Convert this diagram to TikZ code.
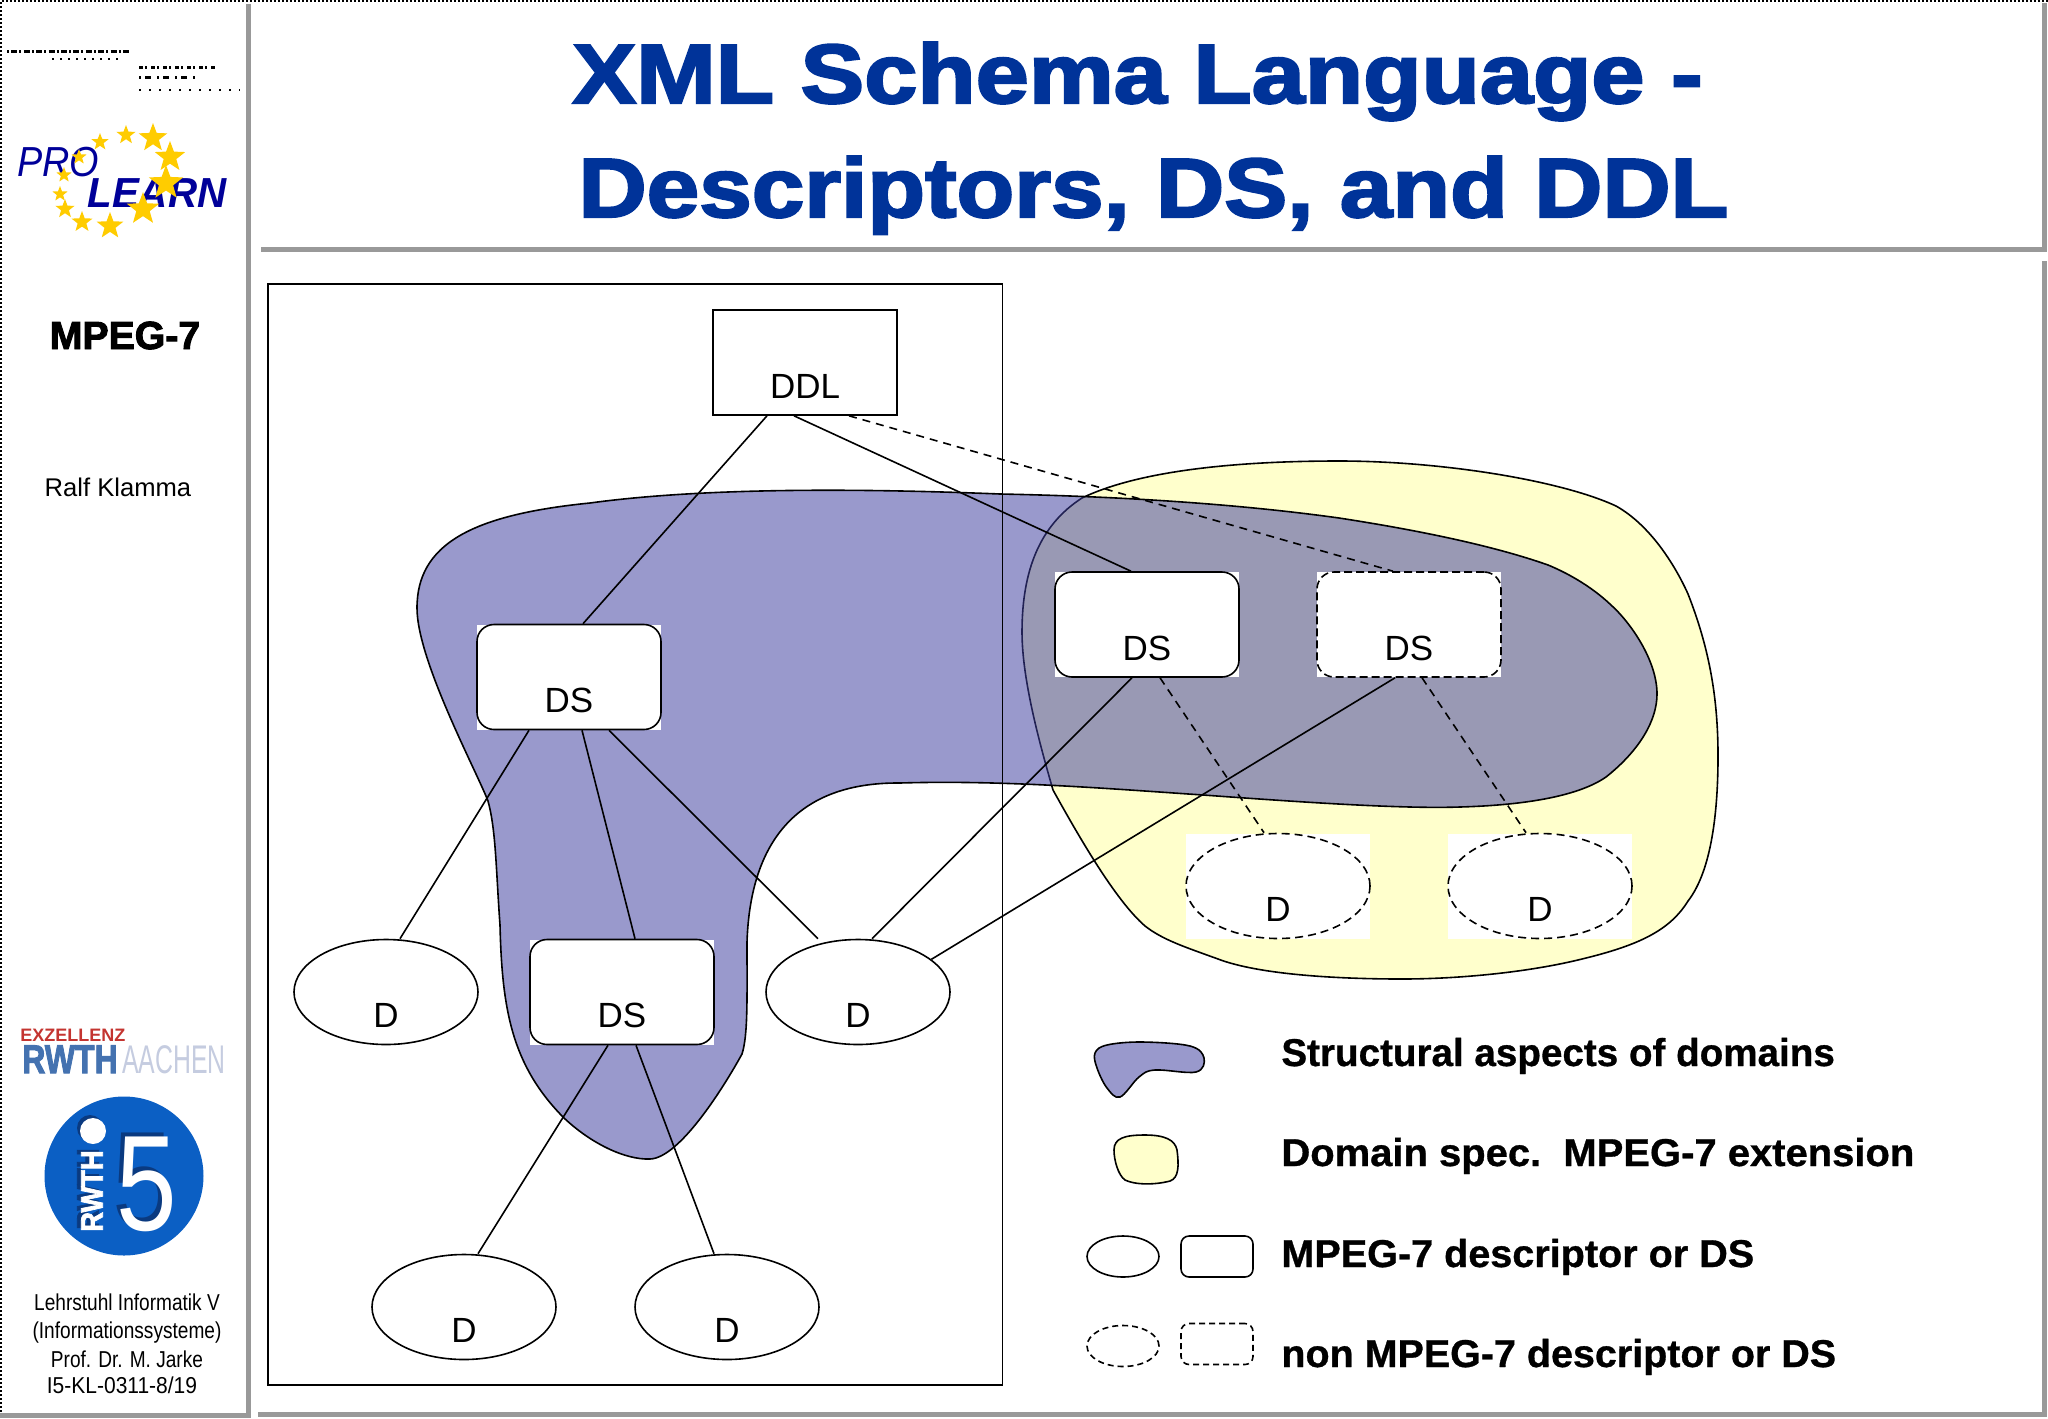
\documentclass[tikz,border=0pt]{standalone}
\usepackage{fontspec}
\setmainfont{Liberation Sans}
\newfontfamily\heavyfont[FakeBold=2.5]{Liberation Sans Bold}
\newfontfamily\boldishfont[FakeBold=0.8]{Liberation Sans Bold}
\usetikzlibrary{shapes.geometric}
\definecolor{blobviolet}{RGB}{64,64,159}
\definecolor{legendviolet}{RGB}{153,153,204}
\definecolor{blobyellow}{RGB}{255,255,204}
\definecolor{titleblue}{RGB}{0,51,153}
\definecolor{framegray}{RGB}{153,153,153}
\definecolor{learnblue}{RGB}{0,0,153}
\definecolor{starorange}{RGB}{255,204,0}
\definecolor{rwthred}{RGB}{196,52,48}
\definecolor{rwthblue}{RGB}{68,114,176}
\definecolor{aachengray}{RGB}{197,204,224}
\definecolor{ifiveblue}{RGB}{11,95,196}
\definecolor{ifivedark}{RGB}{10,58,128}
\def\fsz#1{\fontsize{#1}{#1}\selectfont}
\def\whitenode[#1](#2)(#3,#4)#5{\node[whitebox] (#2bg) at (#3,#4) {}; \node[#1] (#2) at (#3,#4) {#5};}
\tikzset{
	whitebox/.style={fill=white,minimum width=92pt,minimum height=52.5pt,inner sep=0pt},
	dsbox/.style={draw,line width=0.8pt,fill=white,rounded corners=8.5pt,minimum width=92pt,minimum height=52.5pt,inner sep=0pt,text height=35.5pt,text depth=0pt,font=\fsz{17.5}},
	dcirc/.style={draw,line width=0.8pt,fill=white,ellipse,minimum width=92pt,minimum height=52.5pt,inner sep=0pt,text height=35.5pt,text depth=0pt,font=\fsz{17.5}},
	link/.style={line width=0.8pt},
	dashlink/.style={line width=0.8pt,dash pattern=on 4pt off 3pt},
	blob/.style={draw,line width=0.8pt},
	legendtext/.style={anchor=base west,inner sep=0pt,font=\boldishfont\fsz{19.4}},
	sidetext/.style={inner sep=0pt,anchor=base,xscale=0.83,font=\fsz{11.5}},
	titletext/.style={anchor=base west,inner sep=0pt,text=titleblue,font=\heavyfont\fsz{42}},
	legendbox/.style={line width=0.8pt,minimum width=36pt,minimum height=20.5pt,inner sep=0pt},
	frameline/.style={framegray,line width=2.5pt},
}
\begin{document}
\begin{tikzpicture}[x=0.5pt,y=-0.5pt]
	\useasboundingbox (0,0) rectangle (2048,1418);
	\fill[white] (0,0) rectangle (2048,1418);

	%%%%% FRAME %%%%%
	\draw[line width=1pt,dash pattern=on 1pt off 1pt] (2048,1) -- (1,1) -- (1,1418);
	\draw[frameline] (248,4) -- (248,1415) -- (0,1415);
	\draw[frameline] (261,249.5) -- (2044,249.5) -- (2044,3);
	\draw[frameline] (258,1414) -- (2044,1414) -- (2044,261);

	%%%%% SIDEBAR %%%%%
	\draw[line width=1.5pt,dash pattern=on 1pt off 1.2pt on 3pt off 1pt] (7,52) -- (129,52);
	\draw[line width=1pt,dash pattern=on 1pt off 3pt] (52,59) -- (120,59);
	\draw[line width=1.5pt,dash pattern=on 2pt off 1pt on 1pt off 2pt] (139,68) -- (215,68);
	\draw[line width=1.5pt,dash pattern=on 1pt off 2pt on 3pt off 3pt] (139,78) -- (195,78);
	\draw[line width=1pt,dash pattern=on 1pt off 4pt] (139,90) -- (240,90);

	\node[anchor=base west,inner sep=0pt,xscale=0.9,text=learnblue,font=\itshape\fsz{21}] (pro) at (17,176) {PRO};
	\node[anchor=base west,inner sep=0pt,xscale=0.96,text=learnblue,font=\bfseries\itshape\fsz{21}] (learn) at (87,207) {LEARN};
	\foreach \x/\y/\s [count=\i] in {126/135/20,153/138/30,170/157/32,166/183/36,143/209/34,110/226/28,82/222/22,65/209/20,60/194/16,64/175/16,79/157/16,100/142/18}
		\node[star,star points=5,star point ratio=2.4,fill=starorange,inner sep=0pt,minimum size=\s*0.5pt] (star\i) at (\x,\y) {};

	\node[anchor=base,inner sep=0pt,font=\heavyfont\fsz{19.6}] (mpeg) at (125,349) {MPEG-7};
	\node[anchor=base,inner sep=0pt,font=\fsz{12.8}] (author) at (118,496) {Ralf Klamma};

	\node[anchor=base west,inner sep=0pt,text=rwthred,font=\bfseries\fsz{9}] (exzellenz) at (20,1041) {EXZELLENZ};
	\node[anchor=base west,inner sep=0pt,xscale=0.8,text=rwthblue,font=\heavyfont\fsz{20}] (rwth) at (22,1073) {RWTH};
	\node[anchor=base west,inner sep=0pt,xscale=0.62,text=aachengray,font=\fsz{20}] (aachen) at (122,1073) {AACHEN};

	\fill[ifiveblue] (124,1176) circle (79.5);
	\node[anchor=base,inner sep=0pt,xscale=0.8,text=ifivedark,font=\fsz{68}] (fiveback) at (143,1226) {5};
	\node[anchor=base,inner sep=0pt,xscale=0.8,text=white,font=\fsz{68}] (five) at (147,1230) {5};
	\fill[ifivedark] (90,1128) circle (13);
	\fill[white] (93,1131) circle (13);
	\node[rotate=90,inner sep=0pt,xscale=0.88,text=ifivedark,font=\heavyfont\fsz{15.5}] (rwthiback) at (88,1189) {RWTH};
	\node[rotate=90,inner sep=0pt,xscale=0.88,text=white,font=\heavyfont\fsz{15.5}] (rwthi) at (92,1191) {RWTH};

	\node[sidetext] (chair) at (127,1310) {Lehrstuhl Informatik V};
	\node[sidetext] (chairsub) at (127,1338) {(Informationssysteme)};
	\node[sidetext] (prof) at (127,1367) {Prof. Dr. M. Jarke};
	\node[sidetext,xscale=1.1] (slide) at (122,1393) {I5-KL-0311-8/19};

	%%%%% TITLE %%%%%
	\node[titletext,xscale=1.137] (titleone) at (572,103) {XML Schema Language -};
	\node[titletext,xscale=1.125] (titletwo) at (578,217) {Descriptors, DS, and DDL};

	%%%%% BLOBS %%%%%
	\draw[blob,fill=blobyellow] (1339,461) .. controls (1440,461) and (1560,480) .. (1616,506)
		.. controls (1650,525) and (1675,565) .. (1688,594)
		.. controls (1710,650) and (1718,700) .. (1718,756)
		.. controls (1718,810) and (1712,870) .. (1688,901)
		.. controls (1670,930) and (1640,945) .. (1582,959)
		.. controls (1530,972) and (1460,979) .. (1402,979)
		.. controls (1340,979) and (1260,975) .. (1218,959)
		.. controls (1185,947) and (1163,940) .. (1145,926)
		.. controls (1115,900) and (1078,835) .. (1053,790)
		.. controls (1040,745) and (1022,680) .. (1022,632)
		.. controls (1022,570) and (1040,525) .. (1082,498)
		.. controls (1140,470) and (1240,461) .. (1339,461) -- cycle;
	\draw[blob,fill=blobviolet,fill opacity=0.53] (1000,494) .. controls (850,488) and (700,488) .. (590,503)
		.. controls (470,515) and (417,545) .. (417,608)
		.. controls (417,660) and (476,770) .. (488,801)
		.. controls (496,830) and (496,870) .. (500,925)
		.. controls (502,1010) and (512,1065) .. (563,1117)
		.. controls (590,1143) and (625,1160) .. (650,1159)
		.. controls (680,1158) and (725,1085) .. (742,1054)
		.. controls (748,1035) and (747,1000) .. (747,942)
		.. controls (750,850) and (790,782) .. (900,783)
		.. controls (1000,780) and (1100,788) .. (1203,795)
		.. controls (1300,802) and (1400,809) .. (1460,807)
		.. controls (1530,805) and (1580,795) .. (1606,777)
		.. controls (1640,750) and (1657,720) .. (1657,694)
		.. controls (1657,660) and (1630,622) .. (1611,605)
		.. controls (1590,585) and (1565,572) .. (1548,565)
		.. controls (1500,548) and (1430,532) .. (1339,518)
		.. controls (1260,507) and (1150,497) .. (1000,494) -- cycle;

	\draw[line width=0.9pt] (268,284) rectangle (1002.5,1385);

	%%%%% NODES %%%%%
	\node[draw,line width=0.8pt,fill=white,minimum width=92pt,minimum height=52.5pt,inner sep=0pt,text height=35.5pt,text depth=0pt,font=\fsz{17.5}] (ddl) at (805,362.5) {DDL};
	\whitenode[dsbox](dsa)(569,677){DS}
	\whitenode[dsbox](dsb)(622,992){DS}
	\whitenode[dsbox](dsc)(1147,624.5){DS}
	\whitenode[dsbox,dash pattern=on 4pt off 2pt](dsd)(1409,624.5){DS}
	\node[dcirc] (da) at (386,992) {D};
	\node[dcirc] (db) at (858,992) {D};
	\node[dcirc] (dc) at (464,1307) {D};
	\node[dcirc] (dd) at (727,1307) {D};
	\whitenode[dcirc,dash pattern=on 4pt off 2.5pt](de)(1278,886){D}
	\whitenode[dcirc,dash pattern=on 4pt off 2.5pt](df)(1540,886){D}

	\draw[link] ([xshift=-19pt]ddl.south) -- ([xshift=7pt]dsa.north);
	\draw[link] ([xshift=-5.5pt]ddl.south) -- ([xshift=-8pt]dsc.north);
	\draw[dashlink] ([xshift=22pt]ddl.south) -- ([xshift=-8pt]dsd.north);
	\draw[link] ([xshift=-20pt]dsa.south) -- ([xshift=7pt]da.north);
	\draw[link] ([xshift=6.5pt]dsa.south) -- ([xshift=6.5pt]dsb.north);
	\draw[link] ([xshift=20pt]dsa.south) -- ([xshift=-20pt]db.north);
	\draw[link] ([xshift=-7.5pt]dsc.south) -- ([xshift=7pt]db.north);
	\draw[link] ([xshift=-7pt]dsd.south) -- (db.24);
	\draw[link] ([xshift=-7pt]dsb.south) -- ([xshift=7pt]dc.north);
	\draw[link] ([xshift=7pt]dsb.south) -- ([xshift=-6.5pt]dd.north);
	\draw[dashlink] ([xshift=6.5pt]dsc.south) -- ([xshift=-7pt]de.north);
	\draw[dashlink] ([xshift=6.5pt]dsd.south) -- ([xshift=-7pt]df.north);

	%%%%% LEGEND %%%%%
	\draw[blob,fill=legendviolet] plot[smooth cycle,tension=0.6] coordinates {
		(1095,1053) (1107,1045) (1142,1042) (1190,1046) (1204,1058) (1196,1072) (1155,1070) (1139,1077) (1120,1097) (1107,1088) (1097,1068)};
	\draw[blob,fill=blobyellow] (1114,1150) .. controls (1114,1138) and (1125,1135) .. (1145,1135)
		.. controls (1165,1135) and (1175,1140) .. (1177,1150)
		.. controls (1179,1165) and (1179,1178) .. (1170,1181)
		.. controls (1155,1185) and (1135,1185) .. (1125,1180)
		.. controls (1118,1175) and (1114,1160) .. (1114,1150) -- cycle;
	\node[legendbox,draw,ellipse] (lega) at (1123,1256.5) {};
	\node[legendbox,draw,rounded corners=4pt] (legb) at (1217,1256.5) {};
	\node[legendbox,draw,ellipse,dash pattern=on 3pt off 2pt] (legc) at (1123,1346) {};
	\node[legendbox,draw,rounded corners=4pt,dash pattern=on 3pt off 2pt] (legd) at (1217,1344) {};
	\node[legendtext,xscale=0.995] (texta) at (1281,1066) {Structural aspects of domains};
	\node[legendtext,xscale=1.03] (textb) at (1281,1166) {Domain spec.\ \ MPEG-7 extension};
	\node[legendtext,xscale=1.02] (textc) at (1281,1267) {MPEG-7 descriptor or DS};
	\node[legendtext,xscale=1.017] (textd) at (1281,1367) {non MPEG-7 descriptor or DS};
\end{tikzpicture}
\end{document}
